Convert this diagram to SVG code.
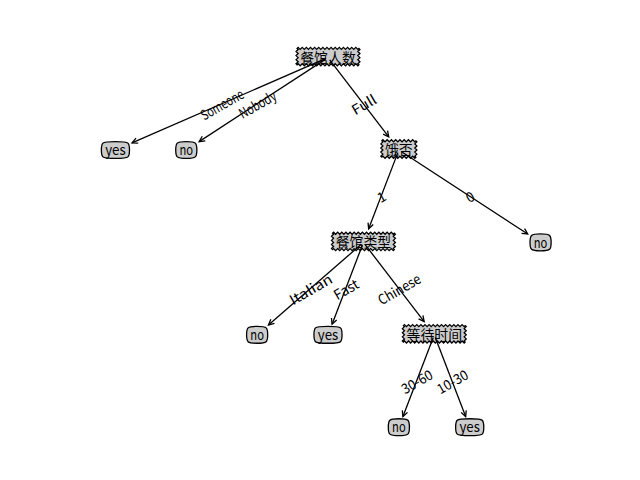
<svg xmlns="http://www.w3.org/2000/svg" xmlns:xlink="http://www.w3.org/1999/xlink" width="640" height="480" viewBox="0 0 640 480">
  <style>
    text { font-family: "Noto Sans CJK SC", "DejaVu Sans", sans-serif; font-size: 13.9px; fill: #000; }
    .box { fill: #cccccc; stroke: #000; stroke-width: 1.3; }
    .node text { text-anchor: middle; dominant-baseline: central; }
    .edge { fill: none; stroke: #000; stroke-width: 1.3; marker-end: url(#head); }
    .lbl { text-anchor: middle; dominant-baseline: central; }
  </style>
  <defs>
    <!-- open V arrowhead at the child end -->
    <marker id="head" markerUnits="userSpaceOnUse" orient="auto" refX="0" refY="0" markerWidth="1" markerHeight="1" overflow="visible">
      <path d="M-5.56,-2.78 L0,0 L-5.56,2.78" fill="none" stroke="#000" stroke-width="1.3"/>
    </marker>
    <!-- sawtooth decision box, four characters wide -->
    <path id="saw4" class="box" d="M-30.9,-8.2
      l1.03,-1.04 1.03,1.04 1.03,1.04 1.03,-1.04 l1.03,-1.04 1.03,1.04 1.03,1.04 1.03,-1.04 l1.03,-1.04 1.03,1.04 1.03,1.04 1.03,-1.04
      l1.03,-1.04 1.03,1.04 1.03,1.04 1.03,-1.04 l1.03,-1.04 1.03,1.04 1.03,1.04 1.03,-1.04 l1.03,-1.04 1.03,1.04 1.03,1.04 1.03,-1.04
      l1.03,-1.04 1.03,1.04 1.03,1.04 1.03,-1.04 l1.03,-1.04 1.03,1.04 1.03,1.04 1.03,-1.04 l1.03,-1.04 1.03,1.04 1.03,1.04 1.03,-1.04
      l1.03,-1.04 1.03,1.04 1.03,1.04 1.03,-1.04 l1.03,-1.04 1.03,1.04 1.03,1.04 1.03,-1.04 l1.03,-1.04 1.03,1.04 1.03,1.04 1.03,-1.04
      l1.03,-1.04 1.03,1.04 1.03,1.04 1.03,-1.04 l1.03,-1.04 1.03,1.04 1.03,1.04 1.03,-1.04 l1.03,-1.04 1.03,1.04 1.03,1.04 1.03,-1.04
      l1.04,1.025 -1.04,1.025 -1.04,1.025 1.04,1.025 l1.04,1.025 -1.04,1.025 -1.04,1.025 1.04,1.025
      l1.04,1.025 -1.04,1.025 -1.04,1.025 1.04,1.025 l1.04,1.025 -1.04,1.025 -1.04,1.025 1.04,1.025
      l-1.03,1.04 -1.03,-1.04 -1.03,-1.04 -1.03,1.04 l-1.03,1.04 -1.03,-1.04 -1.03,-1.04 -1.03,1.04 l-1.03,1.04 -1.03,-1.04 -1.03,-1.04 -1.03,1.04
      l-1.03,1.04 -1.03,-1.04 -1.03,-1.04 -1.03,1.04 l-1.03,1.04 -1.03,-1.04 -1.03,-1.04 -1.03,1.04 l-1.03,1.04 -1.03,-1.04 -1.03,-1.04 -1.03,1.04
      l-1.03,1.04 -1.03,-1.04 -1.03,-1.04 -1.03,1.04 l-1.03,1.04 -1.03,-1.04 -1.03,-1.04 -1.03,1.04 l-1.03,1.04 -1.03,-1.04 -1.03,-1.04 -1.03,1.04
      l-1.03,1.04 -1.03,-1.04 -1.03,-1.04 -1.03,1.04 l-1.03,1.04 -1.03,-1.04 -1.03,-1.04 -1.03,1.04 l-1.03,1.04 -1.03,-1.04 -1.03,-1.04 -1.03,1.04
      l-1.03,1.04 -1.03,-1.04 -1.03,-1.04 -1.03,1.04 l-1.03,1.04 -1.03,-1.04 -1.03,-1.04 -1.03,1.04 l-1.03,1.04 -1.03,-1.04 -1.03,-1.04 -1.03,1.04
      l-1.04,-1.025 1.04,-1.025 1.04,-1.025 -1.04,-1.025 l-1.04,-1.025 1.04,-1.025 1.04,-1.025 -1.04,-1.025
      l-1.04,-1.025 1.04,-1.025 1.04,-1.025 -1.04,-1.025 l-1.04,-1.025 1.04,-1.025 1.04,-1.025 -1.04,-1.025 z"/>
    <!-- sawtooth decision box, two characters wide -->
    <path id="saw2" class="box" d="M-17,-8.2
      l1.0625,-1.04 1.0625,1.04 1.0625,1.04 1.0625,-1.04 l1.0625,-1.04 1.0625,1.04 1.0625,1.04 1.0625,-1.04
      l1.0625,-1.04 1.0625,1.04 1.0625,1.04 1.0625,-1.04 l1.0625,-1.04 1.0625,1.04 1.0625,1.04 1.0625,-1.04
      l1.0625,-1.04 1.0625,1.04 1.0625,1.04 1.0625,-1.04 l1.0625,-1.04 1.0625,1.04 1.0625,1.04 1.0625,-1.04
      l1.0625,-1.04 1.0625,1.04 1.0625,1.04 1.0625,-1.04 l1.0625,-1.04 1.0625,1.04 1.0625,1.04 1.0625,-1.04
      l1.04,1.025 -1.04,1.025 -1.04,1.025 1.04,1.025 l1.04,1.025 -1.04,1.025 -1.04,1.025 1.04,1.025
      l1.04,1.025 -1.04,1.025 -1.04,1.025 1.04,1.025 l1.04,1.025 -1.04,1.025 -1.04,1.025 1.04,1.025
      l-1.0625,1.04 -1.0625,-1.04 -1.0625,-1.04 -1.0625,1.04 l-1.0625,1.04 -1.0625,-1.04 -1.0625,-1.04 -1.0625,1.04
      l-1.0625,1.04 -1.0625,-1.04 -1.0625,-1.04 -1.0625,1.04 l-1.0625,1.04 -1.0625,-1.04 -1.0625,-1.04 -1.0625,1.04
      l-1.0625,1.04 -1.0625,-1.04 -1.0625,-1.04 -1.0625,1.04 l-1.0625,1.04 -1.0625,-1.04 -1.0625,-1.04 -1.0625,1.04
      l-1.0625,1.04 -1.0625,-1.04 -1.0625,-1.04 -1.0625,1.04 l-1.0625,1.04 -1.0625,-1.04 -1.0625,-1.04 -1.0625,1.04
      l-1.04,-1.025 1.04,-1.025 1.04,-1.025 -1.04,-1.025 l-1.04,-1.025 1.04,-1.025 1.04,-1.025 -1.04,-1.025
      l-1.04,-1.025 1.04,-1.025 1.04,-1.025 -1.04,-1.025 l-1.04,-1.025 1.04,-1.025 1.04,-1.025 -1.04,-1.025 z"/>
    <!-- round4 leaf boxes -->
    <path id="leafYes" class="box" d="M-12.5,-6.9 C-10.42,-8.98 10.42,-8.98 12.5,-6.9 C14.58,-4.82 14.58,4.82 12.5,6.9 C10.42,8.98 -10.42,8.98 -12.5,6.9 C-14.58,4.82 -14.58,-4.82 -12.5,-6.9 Z"/>
    <path id="leafNo" class="box" d="M-9,-6.9 C-6.92,-8.98 6.92,-8.98 9,-6.9 C11.08,-4.82 11.08,4.82 9,6.9 C6.92,8.98 -6.92,8.98 -9,6.9 C-11.08,4.82 -11.08,-4.82 -9,-6.9 Z"/>
  </defs>

  <rect width="640" height="480" fill="#fff"/>

  <!-- decision nodes -->
  <g id="n-crowd" class="node" transform="translate(328,56.6)">
    <use xlink:href="#saw4"/><text x="0" y="0">餐馆人数</text>
  </g>
  <g id="n-hungry" class="node" transform="translate(398.86,149)">
    <use xlink:href="#saw2"/><text x="0" y="0">饿否</text>
  </g>
  <g id="n-type" class="node" transform="translate(363.43,241.4)">
    <use xlink:href="#saw4"/><text x="0" y="0">餐馆类型</text>
  </g>
  <g id="n-wait" class="node" transform="translate(434.29,333.8)">
    <use xlink:href="#saw4"/><text x="0" y="0">等待时间</text>
  </g>

  <!-- leaves -->
  <g id="leaf-someone" class="node" transform="translate(115.43,150)">
    <use xlink:href="#leafYes"/><text x="0" y="-0.8" textLength="20.4" lengthAdjust="spacingAndGlyphs">yes</text>
  </g>
  <g id="leaf-nobody" class="node" transform="translate(186.29,150)">
    <use xlink:href="#leafNo"/><text x="0" y="-0.8" textLength="13.6" lengthAdjust="spacingAndGlyphs">no</text>
  </g>
  <g id="leaf-notHungry" class="node" transform="translate(540.57,242.4)">
    <use xlink:href="#leafNo"/><text x="0" y="-0.8" textLength="13.6" lengthAdjust="spacingAndGlyphs">no</text>
  </g>
  <g id="leaf-italian" class="node" transform="translate(257.14,334.8)">
    <use xlink:href="#leafNo"/><text x="0" y="-0.8" textLength="13.6" lengthAdjust="spacingAndGlyphs">no</text>
  </g>
  <g id="leaf-fast" class="node" transform="translate(328,334.8)">
    <use xlink:href="#leafYes"/><text x="0" y="-0.8" textLength="20.4" lengthAdjust="spacingAndGlyphs">yes</text>
  </g>
  <g id="leaf-long" class="node" transform="translate(398.86,427.2)">
    <use xlink:href="#leafNo"/><text x="0" y="-0.8" textLength="13.6" lengthAdjust="spacingAndGlyphs">no</text>
  </g>
  <g id="leaf-short" class="node" transform="translate(469.71,427.2)">
    <use xlink:href="#leafYes"/><text x="0" y="-0.8" textLength="20.4" lengthAdjust="spacingAndGlyphs">yes</text>
  </g>

  <!-- connectors: parent centre to child box edge -->
  <g id="connectors">
    <path class="edge" d="M325.43,58.72 L132.0,142.81"/>
    <path class="edge" d="M325.65,59.13 L199.14,141.62"/>
    <path class="edge" d="M329.70,59.82 L388.72,136.78"/>
    <path class="edge" d="M397.86,152.61 L368.65,228.79"/>
    <path class="edge" d="M401.21,151.53 L527.72,234.02"/>
    <path class="edge" d="M361.32,244.24 L268.46,324.96"/>
    <path class="edge" d="M362.43,245.01 L332.07,324.18"/>
    <path class="edge" d="M365.13,244.62 L424.15,321.58"/>
    <path class="edge" d="M433.29,337.41 L402.93,416.58"/>
    <path class="edge" d="M435.29,337.41 L465.65,416.58"/>
  </g>

  <!-- branch labels at edge midpoints -->
  <g id="labels">
    <text class="lbl" x="221.71" y="103.8" transform="rotate(-30 221.71 103.8)" textLength="47" lengthAdjust="spacingAndGlyphs">Someone</text>
    <text class="lbl" x="257.14" y="103.8" transform="rotate(-30 257.14 103.8)" textLength="40.5" lengthAdjust="spacingAndGlyphs">Nobody</text>
    <text class="lbl" x="363.43" y="103.8" transform="rotate(-30 363.43 103.8)" textLength="26" lengthAdjust="spacingAndGlyphs">Full</text>
    <text class="lbl" x="381.14" y="196.2" transform="rotate(-30 381.14 196.2)">1</text>
    <text class="lbl" x="469.71" y="196.2" transform="rotate(-30 469.71 196.2)">0</text>
    <text class="lbl" x="310.29" y="288.6" transform="rotate(-30 310.29 288.6)" textLength="47" lengthAdjust="spacingAndGlyphs">Italian</text>
    <text class="lbl" x="345.71" y="288.6" transform="rotate(-30 345.71 288.6)" textLength="26.5" lengthAdjust="spacingAndGlyphs">Fast</text>
    <text class="lbl" x="398.86" y="288.6" transform="rotate(-30 398.86 288.6)" textLength="47" lengthAdjust="spacingAndGlyphs">Chinese</text>
    <text class="lbl" x="416.57" y="381" transform="rotate(-30 416.57 381)" textLength="33.5" lengthAdjust="spacingAndGlyphs">30-60</text>
    <text class="lbl" x="452" y="381" transform="rotate(-30 452 381)" textLength="33.5" lengthAdjust="spacingAndGlyphs">10-30</text>
  </g>
</svg>
